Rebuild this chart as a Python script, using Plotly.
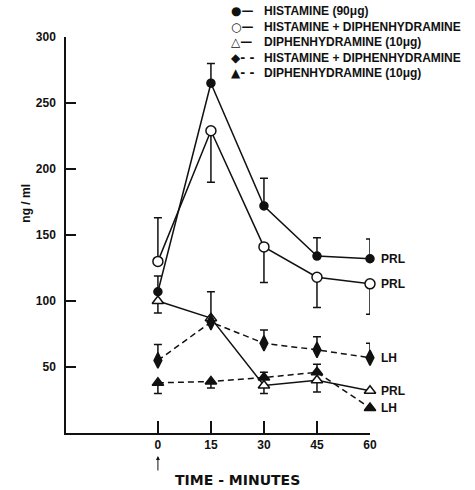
import plotly.graph_objects as go

minutes = [0, 15, 30, 45, 60]

# PRL series
hist_prl = [107, 265, 172, 134, 132]
hist_prl_plus = [12, 15, 21, 14, 15]
hist_prl_minus = [0, 0, 0, 0, 0]

hd_prl = [130, 229, 141, 118, 113]
hd_prl_plus = [33, 0, 0, 0, 0]
hd_prl_minus = [0, 39, 27, 23, 23]

diph_prl = [100, 87, 36, 40, 32]
diph_prl_plus = [0, 20, 0, 0, 0]
diph_prl_minus = [9, 0, 6, 9, 0]

# LH series
hd_lh = [55, 84, 68, 63, 57]
hd_lh_plus = [12, 0, 10, 10, 11]
hd_lh_minus = [0, 0, 0, 0, 0]

diph_lh = [38, 39, 42, 46, 19]
diph_lh_plus = [0, 0, 4, 6, 0]
diph_lh_minus = [8, 5, 0, 0, 0]

names = [
    "HISTAMINE (90\u03bcg)",
    "HISTAMINE + DIPHENHYDRAMINE",
    "DIPHENHYDRAMINE (10\u03bcg)",
    "HISTAMINE + DIPHENHYDRAMINE",
    "DIPHENHYDRAMINE (10\u03bcg)",
]
legend_keys = ["\u25cf\u2014", "\u25cb\u2014", "\u25b3\u2014", "\u25c6- -", "\u25b2- -"]
end_labels = ["PRL", "PRL", "PRL", "LH", "LH"]

FONT = "Liberation Sans"
BLACK = "#111111"

series = [
    (hist_prl, hist_prl_plus, hist_prl_minus, "circle", 8, BLACK, "solid"),
    (hd_prl, hd_prl_plus, hd_prl_minus, "circle", 10, "white", "solid"),
    (diph_prl, diph_prl_plus, diph_prl_minus, "triangle-up", 10, "white", "solid"),
    (hd_lh, hd_lh_plus, hd_lh_minus, "diamond-tall", 11, BLACK, "dash"),
    (diph_lh, diph_lh_plus, diph_lh_minus, "triangle-up", 10, BLACK, "dash"),
]

fig = go.Figure()
for (vals, plus, minus, sym, size, fill, dash), name in zip(series, names):
    fig.add_trace(go.Scatter(
        x=minutes, y=vals, name=name, mode="lines+markers",
        line=dict(color=BLACK, width=1.5, dash="6px,4px" if dash == "dash" else "solid"),
        marker=dict(symbol=sym, size=size, color=fill, line=dict(color=BLACK, width=1.5)),
        error_y=dict(type="data", symmetric=False, array=plus, arrayminus=minus,
                     color=BLACK, thickness=1.5, width=4),
        cliponaxis=False, showlegend=False,
    ))

annotations = []
for (vals, *_), lab in zip(series, end_labels):
    annotations.append(dict(x=minutes[-1], y=vals[-1], xref="x", yref="y", text=lab,
                            showarrow=False, xanchor="left", xshift=9,
                            font=dict(family=FONT, size=12, color=BLACK, weight="bold")))

# text legend
annotations.append(dict(x=0.535, y=1.088, xref="paper", yref="paper",
                        text="<br>".join(legend_keys), align="left",
                        showarrow=False, xanchor="left", yanchor="top",
                        font=dict(family="DejaVu Sans", size=12, color=BLACK, weight="bold")))
annotations.append(dict(x=0.645, y=1.088, xref="paper", yref="paper",
                        text="<br>".join(names), align="left",
                        showarrow=False, xanchor="left", yanchor="top",
                        font=dict(family=FONT, size=12, color=BLACK, weight="bold")))

annotations.append(dict(x=-0.16, y=0.58, xref="paper", yref="paper", text="ng / ml",
                        textangle=-90, showarrow=False,
                        font=dict(family=FONT, size=12, color=BLACK, weight="bold")))
annotations.append(dict(x=0.5625, y=-0.119, xref="paper", yref="paper", text="TIME - MINUTES",
                        showarrow=False, yanchor="middle",
                        font=dict(family="DejaVu Sans", size=14, color=BLACK, weight="bold")))
annotations.append(dict(x=0, y=-0.058, xref="x", yref="paper", text="", showarrow=True,
                        ax=0, ay=16, arrowhead=2, arrowsize=0.8, arrowwidth=1, arrowcolor=BLACK))

fig.update_layout(
    width=475, height=490,
    margin=dict(l=66, r=105, t=37, b=57, autoexpand=False),
    paper_bgcolor="white", plot_bgcolor="white",
    font=dict(family=FONT, size=11, color=BLACK, weight="bold"),
    showlegend=False,
    annotations=annotations,
    xaxis=dict(range=[-26, 60], tickvals=minutes, ticks="inside", ticklen=12, tickwidth=1.5,
               tickcolor=BLACK, showline=True, linecolor=BLACK, linewidth=1.5,
               showgrid=False, zeroline=False,
               tickfont=dict(family=FONT, size=12, color=BLACK, weight="bold")),
    yaxis=dict(range=[0, 300], tickvals=[50, 100, 150, 200, 250, 300], ticks="inside",
               ticklen=10, tickwidth=1.5, tickcolor=BLACK, showline=True, linecolor=BLACK,
               linewidth=1.5, showgrid=False, zeroline=False, ticklabelstandoff=6,
               tickfont=dict(family=FONT, size=12, color=BLACK, weight="bold")),
)

fig.write_html("out.html", config={"displayModeBar": False},
               post_script="document.body.style.margin='0';document.body.style.overflow='hidden';")
